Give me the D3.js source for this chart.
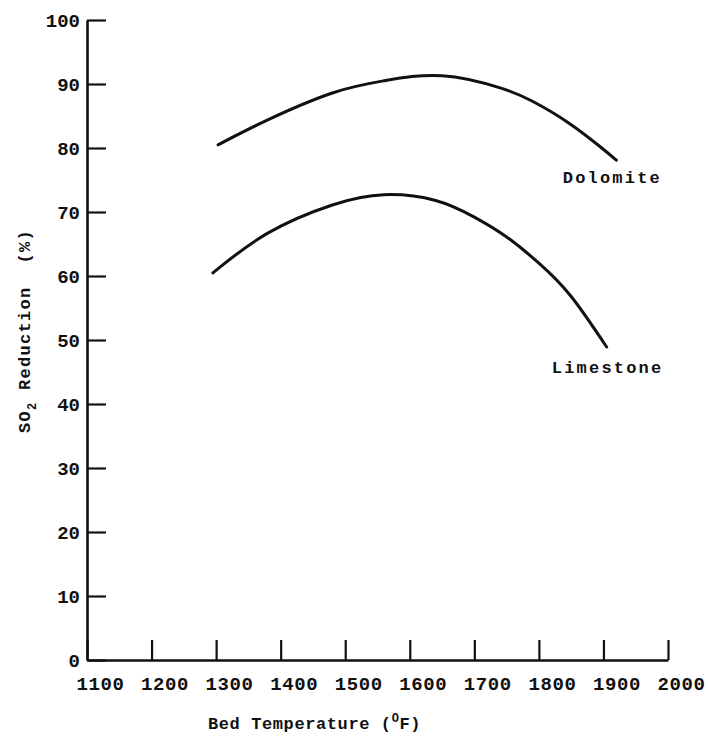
<!DOCTYPE html>
<html>
<head>
<meta charset="utf-8">
<script src="https://cdn.jsdelivr.net/npm/d3@7"></script>
<style>
  html, body { margin: 0; padding: 0; background: #fff; }
  svg { display: block; }
  text { font-family: "Liberation Mono", "Courier New", monospace; fill: #111; }
</style>
</head>
<body>
<script>
// SO2 reduction vs. bed temperature for two sorbents
const xTicks = [1100, 1200, 1300, 1400, 1500, 1600, 1700, 1800, 1900, 2000];
const yTicks = [0, 10, 20, 30, 40, 50, 60, 70, 80, 90, 100];

const dolomiteTemp = [1303, 1380, 1480, 1560, 1650, 1740, 1790, 1845, 1895, 1920];
const dolomiteSO2  = [80.5, 84.4, 88.6, 90.5, 91.3, 89.4, 87.3, 84.0, 80.2, 78.1];

const limestoneTemp = [1295, 1380, 1480, 1560, 1640, 1700, 1750, 1800, 1850, 1905];
const limestoneSO2  = [60.5, 66.7, 71.1, 72.7, 71.8, 69.2, 66.1, 62.0, 56.8, 48.9];

const seriesNames = ["Dolomite", "Limestone"];

const W = 708, H = 736;
const svg = d3.select("body").append("svg").attr("width", W).attr("height", H);

const x = d3.scaleLinear().domain([1100, 2000]).range([87, 668]);
const y = d3.scaleLinear().domain([0, 100]).range([660, 20]);

const ink = "#111";

// y axis: ticks point inward (to the right)
const gy = svg.append("g")
  .attr("transform", `translate(${x(1100)},0)`)
  .call(d3.axisLeft(y).tickValues(yTicks).tickSizeInner(-19).tickSizeOuter(0).tickPadding(7));
gy.select(".domain").attr("stroke", ink).attr("stroke-width", 2.6);
gy.selectAll(".tick line").attr("stroke", ink).attr("stroke-width", 2.2);
gy.selectAll(".tick text")
  .attr("font-size", 19).attr("font-weight", "bold")
  .attr("font-family", "Liberation Mono, monospace").attr("fill", ink);

// x axis: ticks point upward, labels set a little to the right of each tick
const gx = svg.append("g")
  .attr("transform", `translate(0,${y(0)})`)
  .call(d3.axisBottom(x).tickValues(xTicks).tickFormat(d3.format("d"))
    .tickSizeInner(-20).tickSizeOuter(0).tickPadding(17));
gx.select(".domain").attr("stroke", ink).attr("stroke-width", 2.6);
gx.selectAll(".tick line").attr("stroke", ink).attr("stroke-width", 2.2);
gx.selectAll(".tick text")
  .attr("font-size", 19).attr("font-weight", "bold")
  .attr("letter-spacing", 0.6)
  .attr("font-family", "Liberation Mono, monospace").attr("fill", ink)
  .attr("dx", 13);

// curves
const line = d3.line()
  .x(d => x(d[0])).y(d => y(d[1]))
  .curve(d3.curveNatural);

const series = [
  { name: seriesNames[0], pts: d3.zip(dolomiteTemp, dolomiteSO2) },
  { name: seriesNames[1], pts: d3.zip(limestoneTemp, limestoneSO2) }
];

svg.selectAll("path.curve").data(series).join("path")
  .attr("class", "curve")
  .attr("d", d => line(d.pts))
  .attr("fill", "none")
  .attr("stroke", ink)
  .attr("stroke-width", 3)
  .attr("stroke-linecap", "round");

// curve labels below the right-hand ends
const labelAt = [
  { name: seriesNames[0], t: 1837, v: 74.5 },
  { name: seriesNames[1], t: 1820, v: 44.8 }
];
svg.selectAll("text.series").data(labelAt).join("text")
  .attr("class", "series")
  .attr("x", d => x(d.t)).attr("y", d => y(d.v))
  .attr("font-size", 17).attr("font-weight", "bold")
  .attr("letter-spacing", 2.2)
  .text(d => d.name);

// axis titles
const xt = svg.append("text")
  .attr("x", 208).attr("y", 729)
  .attr("font-size", 17).attr("font-weight", "bold")
  .attr("letter-spacing", 0.6);
xt.append("tspan").text("Bed Temperature (");
xt.append("tspan").attr("font-size", 12).attr("dy", -7).text("O");
xt.append("tspan").attr("dy", 7).text("F)");

const yt = svg.append("text")
  .attr("transform", `translate(30,433) rotate(-90)`)
  .attr("font-size", 17).attr("font-weight", "bold")
  .attr("letter-spacing", 1.3)
  .attr("xml:space", "preserve")
  .style("white-space", "pre");
yt.append("tspan").text("SO");
yt.append("tspan").attr("font-size", 12).attr("dy", 6).text("2");
yt.append("tspan").attr("dy", -6).text(" Reduction  (%)");
</script>
</body>
</html>
